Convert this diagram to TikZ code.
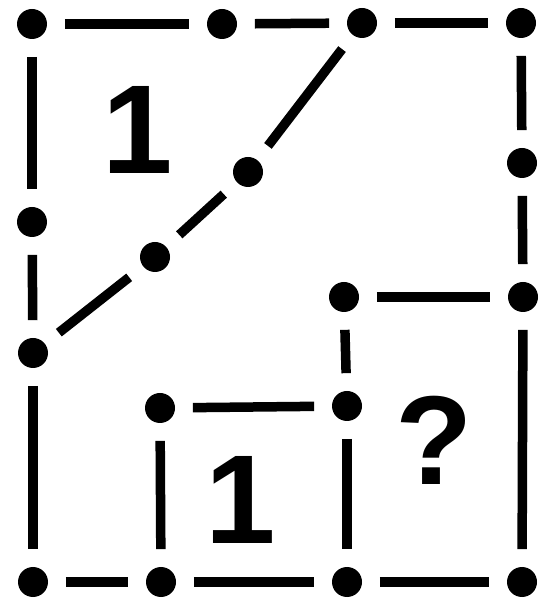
\documentclass[tikz,border=0pt]{standalone}
\usepackage{fontspec}
\setmainfont{Liberation Sans}
\begin{document}
\begin{tikzpicture}[
  dot/.style={circle,fill,inner sep=0pt,minimum size=.6cm},
  seg/.style={line width=.19cm,shorten <=.35cm,shorten >=.35cm},
  digit/.style={inner sep=0pt,font=\fontsize{72}{72}\selectfont\bfseries}]
  \useasboundingbox (0,0) rectangle (10.8,12.04);
  % outer frame
  \node[dot] (a) at (.64,11.56) {};
  \node[dot] (b) at (4.44,11.56) {};
  \node[dot] (c) at (7.24,11.58) {};
  \node[dot] (d) at (10.42,11.58) {};
  \node[dot] (e) at (10.44,8.78) {};
  \node[dot] (f) at (10.46,6.1) {};
  \node[dot] (g) at (10.44,.4) {};
  \node[dot] (h) at (.64,7.6) {};
  \node[dot] (i) at (.66,4.98) {};
  \node[dot] (j) at (.66,.4) {};
  \node[dot] (k) at (3.22,.4) {};
  \node[dot] (l) at (6.94,.4) {};
  % diagonal and the two inner squares
  \node[dot] (m) at (3.1,6.9) {};
  \node[dot] (n) at (4.96,8.6) {};
  \node[dot] (p) at (6.88,6.1) {};
  \node[dot] (q) at (6.94,3.92) {};
  \node[dot] (r) at (3.2,3.88) {};
  \foreach \u/\v in {a/b,b/c,c/d,d/e,e/f,f/g,j/k,k/l,l/g,a/h,h/i,i/j,
                     i/m,m/n,n/c,p/f,p/q,q/l,r/q,r/k}
    \draw[seg] (\u) -- (\v);
  \node[digit] (one) at (2.76,9.44) {1};
  \node[digit] (two) at (4.82,2.04) {1};
  \node[digit] (ask) at (8.68,3.24) {?};
\end{tikzpicture}
\end{document}
